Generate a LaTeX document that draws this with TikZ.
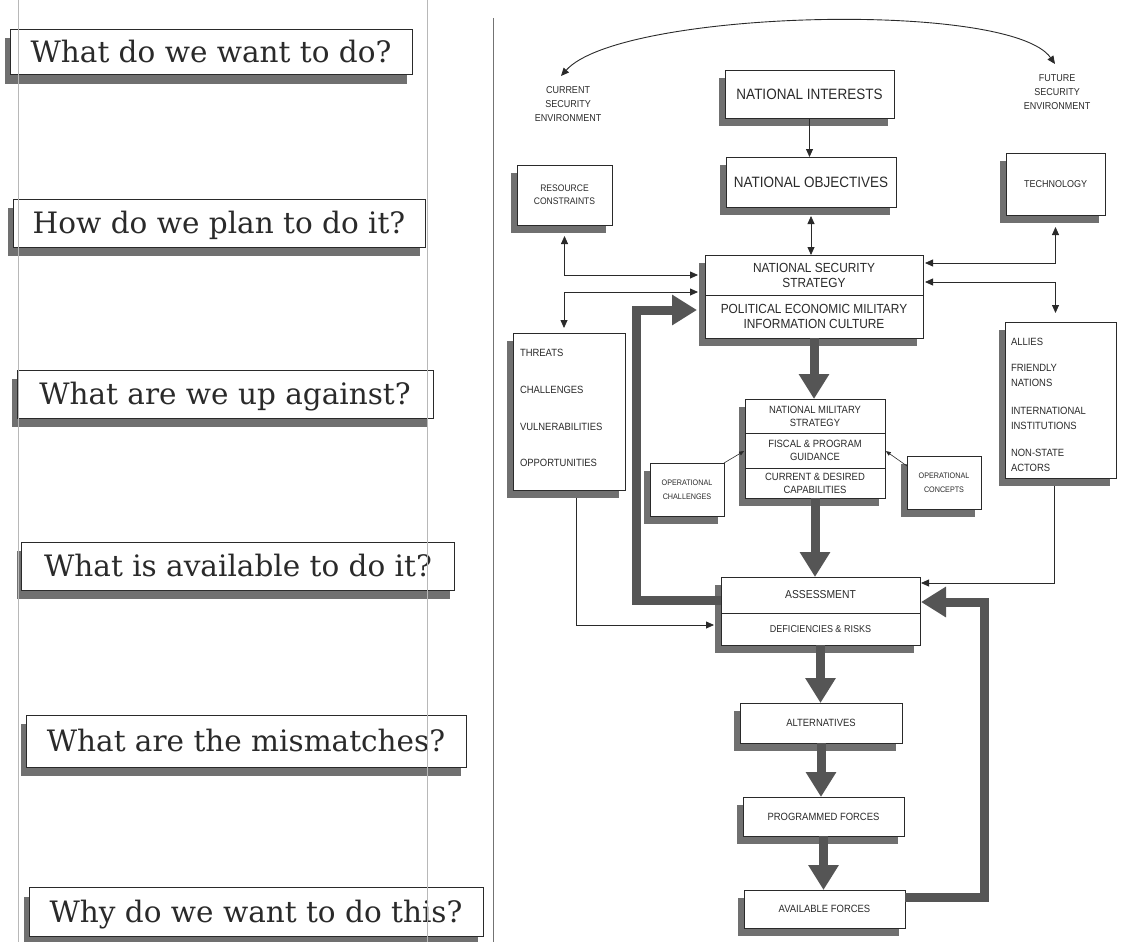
\documentclass[tikz,border=0pt]{standalone}
\usepackage{fontspec}
\usetikzlibrary{arrows.meta,shadows,calc}
\newfontfamily\dg[FakeStretch=0.9]{Liberation Sans}
\newfontfamily\qf{DejaVu Serif}
\definecolor{ink}{HTML}{2A2A2A}
\definecolor{shade}{HTML}{707070}
\definecolor{fatc}{HTML}{555555}
\begin{document}
\begin{tikzpicture}[x=1pt,y=-1pt,
 every node/.style={inner sep=0pt, outer sep=0pt, text=ink},
 qbox/.style={draw=ink, line width=0.9pt, fill=white,
   font=\qf\fontsize{29.5}{32}\selectfont, text height=21.5pt, text depth=0pt,
   drop shadow={shadow xshift=-5pt, shadow yshift=-9pt, fill=shade, opacity=1}},
 dbox/.style={draw=ink, line width=0.7pt, fill=white, align=center,
   drop shadow={shadow xshift=-6pt, shadow yshift=-8pt, fill=shade, opacity=1}},
 lbl/.style={align=center, font=\dg\fontsize{10}{14}\selectfont},
 item/.style={anchor=west, align=left, font=\dg\fontsize{10.5}{15}\selectfont},
 tip/.style={Triangle[length=8pt,width=7pt]},
 tarrow/.style={draw=ink, line width=0.8pt, -{Triangle[length=8pt,width=7pt]}},
 tboth/.style={draw=ink, line width=0.8pt, {Triangle[length=8pt,width=7pt]}-{Triangle[length=8pt,width=7pt]}},
 farrow/.style={draw=fatc, line width=9pt, -{Triangle[length=25pt,width=29pt]}},
]
\useasboundingbox (0,0) rectangle (1127,942);

% ---- questions
\node[qbox, minimum width=402pt, minimum height=45pt] (q1) at (211,52) {What do we want to do?};
\node[qbox, minimum width=412pt, minimum height=48pt] (q2) at (219,223) {How do we plan to do it?};
\node[qbox, minimum width=416pt, minimum height=48pt] (q3) at (225,394) {What are we up against?};
\node[qbox, minimum width=433pt, minimum height=48pt] (q4) at (238,566) {What is available to do it?};
\node[qbox, minimum width=440pt, minimum height=52pt] (q5) at (246,741) {What are the mismatches?};
\node[qbox, minimum width=454pt, minimum height=49pt] (q6) at (256,912) {Why do we want to do this?};

% page lines of the scan
\draw[black!28, line width=0.6pt] (18,0) -- (18,942);
\draw[black!28, line width=0.6pt] (427,0) -- (427,942);
\draw[black!55, line width=0.8pt] (493,18) -- (493,942);

% ---- diagram nodes
\node[lbl] (cse) at (568,104) {CURRENT\\SECURITY\\ENVIRONMENT};
\node[lbl] (fse) at (1057,92) {FUTURE\\SECURITY\\ENVIRONMENT};

\node[dbox, minimum width=169pt, minimum height=48pt, font=\dg\fontsize{15}{17}\selectfont] (ni) at (809.5,94) {NATIONAL INTERESTS};
\node[dbox, minimum width=170pt, minimum height=50pt, font=\dg\fontsize{15}{17}\selectfont] (no) at (811,182) {NATIONAL OBJECTIVES};
\node[dbox, minimum width=95pt, minimum height=60pt, font=\dg\fontsize{9.5}{13}\selectfont] (rc) at (564.5,195) {RESOURCE\\CONSTRAINTS};
\node[dbox, minimum width=99pt, minimum height=62pt, font=\dg\fontsize{10}{13}\selectfont] (tech) at (1055.5,184) {TECHNOLOGY};

\node[dbox, minimum width=218pt, minimum height=40pt, font=\dg\fontsize{13.2}{15}\selectfont] (nssA) at (814,275) {NATIONAL SECURITY\\STRATEGY};
\node[dbox, minimum width=218pt, minimum height=43pt, font=\dg\fontsize{13.2}{15}\selectfont] (nssB) at (814,316.5) {POLITICAL ECONOMIC MILITARY\\INFORMATION CULTURE};

\node[dbox, minimum width=112pt, minimum height=157pt] (threats) at (569,411.5) {};
\node[item] (th1) at (520,353) {THREATS};
\node[item] (th2) at (520,390) {CHALLENGES};
\node[item] (th3) at (520,427) {VULNERABILITIES};
\node[item] (th4) at (520,463) {OPPORTUNITIES};

\node[dbox, minimum width=111pt, minimum height=156pt] (allies) at (1060.5,400) {};
\node[item] (al1) at (1011,342) {ALLIES};
\node[item] (al2) at (1011,375.5) {FRIENDLY\\NATIONS};
\node[item] (al3) at (1011,418) {INTERNATIONAL\\INSTITUTIONS};
\node[item] (al4) at (1011,460.5) {NON-STATE\\ACTORS};

\node[dbox, minimum width=140pt, minimum height=34pt, font=\dg\fontsize{10.5}{13}\selectfont] (nms1) at (815,416) {NATIONAL MILITARY\\STRATEGY};
\node[dbox, minimum width=140pt, minimum height=35pt, font=\dg\fontsize{10.5}{13}\selectfont] (nms2) at (815,450.5) {FISCAL \& PROGRAM\\GUIDANCE};
\node[dbox, minimum width=140pt, minimum height=30pt, font=\dg\fontsize{10.5}{13}\selectfont] (nms3) at (815,483) {CURRENT \& DESIRED\\CAPABILITIES};

\node[dbox, minimum width=74pt, minimum height=53pt, font=\dg\fontsize{8}{14}\selectfont] (oc) at (687,489.5) {OPERATIONAL\\CHALLENGES};
\node[dbox, minimum width=74pt, minimum height=53pt, font=\dg\fontsize{8}{14}\selectfont] (ocon) at (944,482.5) {OPERATIONAL\\CONCEPTS};

\node[dbox, minimum width=199pt, minimum height=36pt, font=\dg\fontsize{11.5}{13}\selectfont] (as1) at (820.5,595) {ASSESSMENT};
\node[dbox, minimum width=199pt, minimum height=32pt, font=\dg\fontsize{10}{12}\selectfont] (as2) at (820.5,629) {DEFICIENCIES \& RISKS};

\node[dbox, minimum width=162pt, minimum height=40pt, font=\dg\fontsize{10.5}{12}\selectfont] (alt) at (821,723) {ALTERNATIVES};
\node[dbox, minimum width=161pt, minimum height=39pt, font=\dg\fontsize{10.5}{12}\selectfont] (pf) at (823.5,816.5) {PROGRAMMED FORCES};
\node[dbox, minimum width=161pt, minimum height=38pt, font=\dg\fontsize{10.5}{12}\selectfont] (af) at (824.5,909) {AVAILABLE FORCES};

% ---- connectors
\coordinate (cseTip) at (561,76);
\coordinate (fseTip) at (1055,64);
\draw[tboth, line width=0.9pt] (cseTip) .. controls (620,10) and (1010,0) .. (fseTip);

\draw[tarrow] (ni.south) -- (ni.south |- no.north);
\draw[tboth, shorten <=9pt] (no.south) -- (no.south |- nssA.north);
\draw[tboth, shorten <=11pt, shorten >=7pt] (rc.south) |- (nssA.west);
\draw[tboth, shorten <=7pt, shorten >=5pt] ([yshift=-17pt]nssA.west) -| ([xshift=-5pt]threats.north);
\draw[tboth, shorten <=12pt, shorten >=2pt] (tech.south) |- ([yshift=12pt]nssA.east);
\draw[tboth, shorten <=2pt, shorten >=9pt] ([yshift=-7pt]nssA.east) -| ([xshift=-5pt]allies.north);

\draw[tarrow, line width=0.6pt, -{Triangle[length=5pt,width=4pt]}, shorten >=1pt] (oc.north east) -- (nms2.west);
\draw[tarrow, line width=0.6pt, -{Triangle[length=5pt,width=4pt]}, shorten >=1pt] ([yshift=-10pt]ocon.north west) -- (nms2.east);

\draw[tarrow, shorten <=8pt, shorten >=7pt] ([xshift=7pt]threats.south) |- ([yshift=4pt]as2.west);
\draw[tarrow, shorten <=8pt, shorten >=1pt] ([xshift=-6pt]allies.south) |- ([yshift=12pt]as1.east);

\coordinate (tl) at (636,310);
\draw[farrow, shorten >=8pt] ([yshift=-5pt]as1.west) -| (tl) -- (tl -| nssB.west);
\coordinate (fr) at (984,602);
\draw[farrow, shorten >=1pt] ([yshift=12pt]af.east) -| (fr) -- (fr -| as1.east);

\draw[farrow] (nssB.south) -- (nssB.south |- nms1.north);
\draw[farrow] (nms3.south) -- (nms3.south |- as1.north);
\draw[farrow] (as2.south) -- (as2.south |- alt.north);
\draw[farrow] (alt.south) -- (alt.south |- pf.north);
\draw[farrow] (pf.south) -- (pf.south |- af.north);
\end{tikzpicture}
\end{document}
